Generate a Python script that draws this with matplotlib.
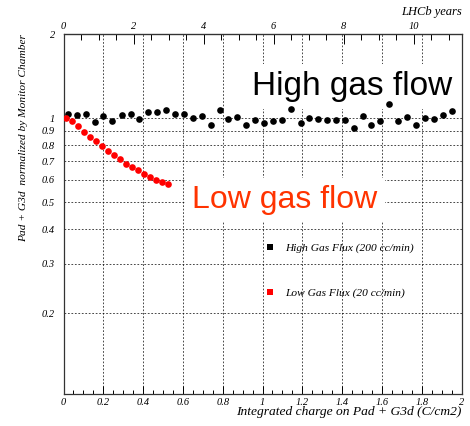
import matplotlib
matplotlib.use("Agg")
import matplotlib.pyplot as plt
from matplotlib.lines import Line2D
from matplotlib.ticker import FixedLocator, NullLocator, MultipleLocator, FuncFormatter
import numpy as np

# %% data
high_charge = [0.021, 0.066, 0.113, 0.158, 0.200, 0.245, 0.292, 0.338, 0.381, 0.426,
               0.470, 0.516, 0.560, 0.604, 0.649, 0.694, 0.740, 0.785, 0.828, 0.873,
               0.917, 0.962, 1.009, 1.054, 1.099, 1.145, 1.191, 1.234, 1.277, 1.323,
               1.368, 1.413, 1.458, 1.503, 1.547, 1.592, 1.637, 1.682, 1.728, 1.773,
               1.818, 1.862, 1.907, 1.953]
high_ratio = [1.036, 1.028, 1.034, 0.968, 1.013, 0.978, 1.028, 1.036, 0.994, 1.053,
              1.047, 1.071, 1.036, 1.036, 1.002, 1.013, 0.946, 1.068, 0.992, 1.011,
              0.942, 0.984, 0.958, 0.978, 0.986, 1.080, 0.960, 1.002, 0.988, 0.984,
              0.984, 0.984, 0.918, 1.013, 0.941, 0.978, 1.119, 0.978, 1.011, 0.946,
              1.002, 0.992, 1.025, 1.060]

low_charge = [0.013, 0.043, 0.073, 0.105, 0.135, 0.165, 0.195, 0.225, 0.255, 0.285,
              0.315, 0.344, 0.374, 0.404, 0.435, 0.465, 0.495, 0.525]
low_ratio = [1.002, 0.972, 0.933, 0.888, 0.855, 0.829, 0.797, 0.759, 0.739, 0.715,
             0.683, 0.665, 0.650, 0.629, 0.614, 0.602, 0.588, 0.578]

y_ticks = [0.2, 0.3, 0.4, 0.5, 0.6, 0.7, 0.8, 0.9, 1, 2]
y_grid = [0.2, 0.3, 0.4, 0.5, 0.6, 0.7, 0.8, 0.9, 1]
x_ticks = [0, 0.2, 0.4, 0.6, 0.8, 1, 1.2, 1.4, 1.6, 1.8, 2]
year_ticks = [0, 2, 4, 6, 8, 10]
year_per_charge = 0.176  # C/cm2 per LHCb year

# %%
serif = ['Liberation Serif', 'DejaVu Serif']
tick_font = dict(family=serif, style='italic', size=7.5)

fig = plt.figure(figsize=(4.7, 4.26), dpi=100)
ax = fig.add_axes([63.5 / 470, 1 - 393.5 / 426, 398 / 470, 359.5 / 426])

ax.set_yscale('log')
ax.set_xlim(0, 2)
ax.set_ylim(0.103, 2)

# dashed grid
for g in y_grid:
    ax.axhline(g, color='black', lw=0.5, ls=(0, (2.5, 2.5)), zorder=1)
for g in x_ticks[1:-1]:
    ax.axvline(g, color='black', lw=0.5, ls=(0, (2.5, 2.5)), zorder=1)

ax.plot(high_charge, high_ratio, 'o', color='black', ms=4.8, mew=0, zorder=5)
ax.plot(low_charge, low_ratio, 'o', color='#ff0000', ms=4.8, mew=0, zorder=5)

ax.text(1.452, 1.212, 'High gas flow', fontsize=24, family='Liberation Sans',
        ha='center', va='baseline', zorder=3,
        bbox=dict(facecolor='white', edgecolor='none', pad=5))
ax.text(1.113, 0.477, 'Low gas flow', fontsize=23, family='Liberation Sans',
        color='#ff3300', ha='center', va='baseline', zorder=3,
        bbox=dict(facecolor='white', edgecolor='none', pad=5))

# axes / ticks
ax.yaxis.set_major_locator(FixedLocator(y_ticks))
ax.yaxis.set_minor_locator(NullLocator())
ax.yaxis.set_major_formatter(FuncFormatter(lambda v, p: '%g' % v))
ax.set_xticks(x_ticks)
ax.set_xticklabels(['%g' % t for t in x_ticks])
ax.xaxis.set_minor_locator(MultipleLocator(0.05))
ax.tick_params(axis='both', which='both', direction='in', top=False, right=False)
ax.tick_params(axis='x', which='major', length=6, width=0.7, pad=3)
ax.tick_params(axis='x', which='minor', length=3, width=0.7)
ax.tick_params(axis='y', which='major', length=0, pad=6)
for lab in ax.get_xticklabels() + ax.get_yticklabels():
    lab.set_fontproperties(tick_font)
for s in ax.spines.values():
    s.set_linewidth(0.9)
    s.set_color('#333333')

sec = ax.secondary_xaxis('top', functions=(lambda x: x / year_per_charge,
                                           lambda y: y * year_per_charge))
sec.xaxis.set_major_locator(FixedLocator(year_ticks))
sec.xaxis.set_minor_locator(FixedLocator(np.arange(0.5, 11.4, 0.5)))
sec.xaxis.set_major_formatter(FuncFormatter(lambda v, p: '%g' % v))
sec.tick_params(which='both', direction='in', width=0.7)
sec.tick_params(which='major', length=7, pad=2)
sec.tick_params(which='minor', length=4)
for lab in sec.get_xticklabels():
    lab.set_fontproperties(tick_font)
ax.text(1.0, 1.045, 'LHCb years', transform=ax.transAxes, ha='right', va='bottom',
        family=serif, style='italic', size=9)

ax.set_xlabel('Integrated charge on Pad + G3d (C/cm2)', loc='right',
              family=serif, style='italic', size=9.7)
ax.xaxis.set_label_coords(1.0, -0.036)
ax.set_ylabel('Pad + G3d  normalized by Monitor Chamber', loc='top',
              family=serif, style='italic', size=8.2)
ax.yaxis.set_label_coords(-0.089, 1.0)

handles = [Line2D([], [], marker='s', ls='none', color='black', ms=4.5, mew=0),
           Line2D([], [], marker='s', ls='none', color='#ff0000', ms=4.5, mew=0)]
ax.legend(handles, ['High Gas Flux (200 cc/min)', 'Low Gas Flux (20 cc/min)'],
          loc='upper left', bbox_to_anchor=(0.49, 0.434), frameon=False,
          handlelength=1.0, handletextpad=0.85, labelspacing=3.0, borderpad=0,
          prop=dict(family=serif, style='italic', size=8.2))

fig.savefig('out.png', dpi=100)
